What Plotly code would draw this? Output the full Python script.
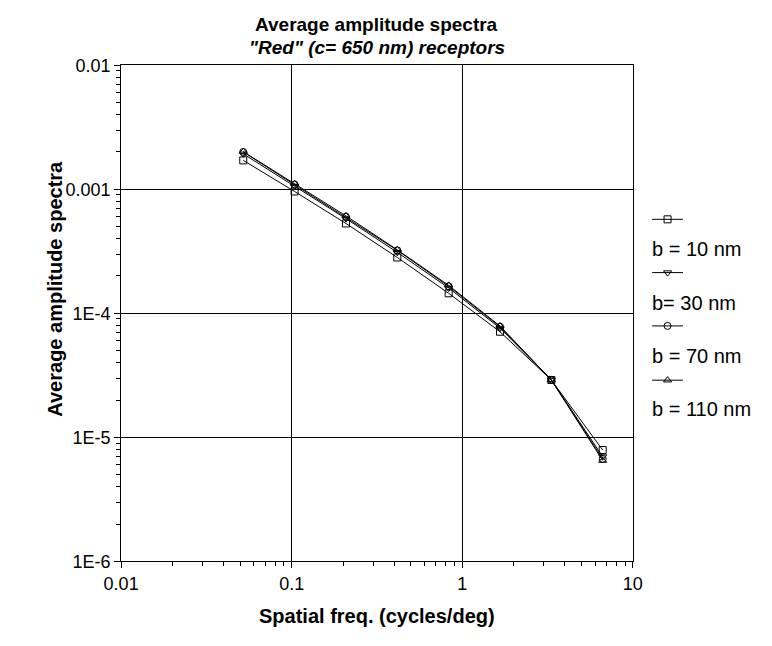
import plotly.graph_objects as go

# Spatial frequencies (cycles/deg), doubling each step
freq = [0.052, 0.104, 0.208, 0.416, 0.832, 1.664, 3.328, 6.656]

# Average amplitude spectra for each bandwidth b
amp_b10 = [0.00171, 0.00096, 0.00053, 0.000282, 0.000145, 7.1e-5, 2.9e-5, 7.9e-6]
amp_b30 = [0.00193, 0.00106, 0.00058, 0.000310, 0.000160, 7.6e-5, 2.9e-5, 7.0e-6]
amp_b70 = [0.00200, 0.00109, 0.00060, 0.000322, 0.000165, 7.8e-5, 2.9e-5, 6.7e-6]
amp_b110 = [0.00201, 0.00111, 0.00061, 0.000325, 0.000168, 7.9e-5, 2.9e-5, 6.5e-6]

series_names = ["b = 10 nm", "b= 30 nm", "b = 70 nm", "b = 110 nm"]
series_values = [amp_b10, amp_b30, amp_b70, amp_b110]
series_symbols = ["square-open", "triangle-down-open", "circle-open", "triangle-up-open"]

x_tickvals = [0.01, 0.1, 1, 10]
x_ticktext = ["0.01", "0.1", "1", "10"]
y_tickvals = [1e-2, 1e-3, 1e-4, 1e-5, 1e-6]
y_ticktext = ["0.01", "0.001", "1E-4", "1E-5", "1E-6"]

FONT = "Liberation Sans, Arial, sans-serif"
W, H = 772, 646
# plot area in pixels
PX0, PX1, PY0, PY1 = 107, 638, 57, 569
# legend box in pixels
LX0, LX1, LY0, LY1 = 645, 772, 190, 440


def px(x):
    return x / W


def py(y):
    return 1 - y / H


def minor_ticks(major):
    """2..9 multiples inside every decade between the major ticks."""
    return [k * m for m in major[:-1] for k in range(2, 10)]


fig = go.Figure()
for name, vals, sym in zip(series_names, series_values, series_symbols):
    fig.add_trace(go.Scatter(
        x=freq, y=vals, mode="lines+markers", name=name,
        line=dict(color="black", width=1),
        marker=dict(symbol=sym, size=7, color="black", line=dict(color="black", width=1)),
        showlegend=False,
    ))

# empty trace that binds the minor-tick overlay axes
fig.add_trace(go.Scatter(x=[], y=[], xaxis="x3", yaxis="y3", showlegend=False,
                         hoverinfo="skip"))

# Legend drawn in a pixel-unit side axes: line sample above each label
LEG_X0, LEG_X1 = 658, 690
leg_line_y = [216, 271, 326, 382]
leg_text_y = [247, 302, 357, 412]
for name, sym, ly, ty in zip(series_names, series_symbols, leg_line_y, leg_text_y):
    fig.add_trace(go.Scatter(
        x=[LEG_X0, LEG_X1], y=[ly, ly], mode="lines",
        line=dict(color="black", width=1), xaxis="x2", yaxis="y2",
        showlegend=False, hoverinfo="skip",
    ))
    fig.add_trace(go.Scatter(
        x=[(LEG_X0 + LEG_X1) / 2], y=[ly], mode="markers",
        marker=dict(symbol=sym, size=7, color="black", line=dict(color="black", width=1)),
        xaxis="x2", yaxis="y2", showlegend=False, hoverinfo="skip",
    ))
    fig.add_annotation(
        x=LEG_X0 - 2, y=ty, xref="x2", yref="y2", text=name, showarrow=False,
        xanchor="left", yanchor="middle",
        font=dict(family=FONT, size=20, color="black"),
    )

axis_common = dict(
    type="log", showline=True, linecolor="black", linewidth=1, mirror=True,
    showgrid=True, gridcolor="black", gridwidth=1,
    tickmode="array",
    ticks="outside", ticklen=6, tickcolor="black",
    tickfont=dict(family=FONT, size=18, color="black"),
    zeroline=False,
)
minor_axis = dict(
    type="log", tickmode="array", ticks="outside", ticklen=4, tickcolor="black",
    showticklabels=False, showgrid=False, showline=False, zeroline=False,
    fixedrange=True,
)

# Chart title (two lines) and axis titles
fig.add_annotation(x=px((PX0 + PX1) / 2), y=py(15), xref="paper", yref="paper",
                   text="<b>Average amplitude spectra</b>", showarrow=False,
                   xanchor="center", yanchor="middle",
                   font=dict(family=FONT, size=19, color="black"))
fig.add_annotation(x=px((PX0 + PX1) / 2), y=py(38.5), xref="paper", yref="paper",
                   text="<b><i>\"Red\" (c= 650 nm) receptors</i></b>", showarrow=False,
                   xanchor="center", yanchor="middle",
                   font=dict(family=FONT, size=19, color="black"))
fig.add_annotation(x=px((PX0 + PX1) / 2), y=py(625), xref="paper", yref="paper",
                   text="<b>Spatial freq. (cycles/deg)</b>", showarrow=False,
                   xanchor="center", yanchor="middle",
                   font=dict(family=FONT, size=20, color="black"))
fig.add_annotation(x=px(38), y=py(288), xref="paper", yref="paper",
                   text="<b>Average amplitude spectra</b>", showarrow=False,
                   textangle=-90, xanchor="center", yanchor="middle",
                   font=dict(family=FONT, size=20, color="black"))

fig.update_layout(
    width=W, height=H,
    margin=dict(l=0, r=0, t=0, b=0),
    paper_bgcolor="white", plot_bgcolor="white",
    showlegend=False,
    xaxis=dict(**axis_common, range=[-2, 1], domain=[px(PX0), px(PX1)],
               tickvals=x_tickvals, ticktext=x_ticktext, anchor="y"),
    yaxis=dict(**axis_common, range=[-6, -2], domain=[py(PY1), py(PY0)],
               tickvals=y_tickvals, ticktext=y_ticktext, anchor="x"),
    xaxis3=dict(**minor_axis, range=[-2, 1], overlaying="x", anchor="y3", side="bottom",
                tickvals=minor_ticks(x_tickvals)),
    yaxis3=dict(**minor_axis, range=[-6, -2], overlaying="y", anchor="x3", side="left",
                tickvals=minor_ticks(sorted(y_tickvals))),
    xaxis2=dict(domain=[px(LX0), px(LX1)], range=[LX0, LX1], anchor="y2",
                visible=False, fixedrange=True),
    yaxis2=dict(domain=[py(LY1), py(LY0)], range=[LY1, LY0], anchor="x2",
                visible=False, fixedrange=True),
)

fig.write_html("out.html")
